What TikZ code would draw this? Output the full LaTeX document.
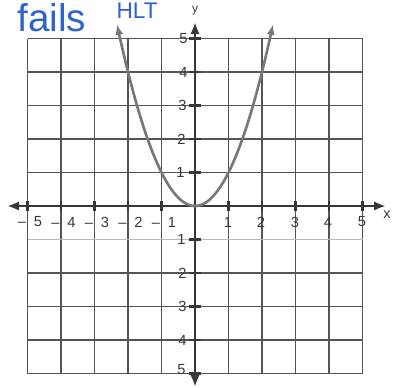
\documentclass[tikz,border=0pt]{standalone}
\usepackage{fontspec}
\setmainfont{Liberation Sans}
\usetikzlibrary{arrows.meta}

\definecolor{inkblue}{RGB}{48,98,205}
\definecolor{gridgray}{RGB}{85,85,85}
\definecolor{axisgray}{RGB}{55,55,55}
\definecolor{curvegray}{RGB}{120,120,120}

\tikzset{every picture/.style={line width=0.75pt}}
\tikzset{
  gridline/.style={draw=gridgray, line width=0.9pt},
  axisline/.style={draw=axisgray, line width=2.2pt, {Latex[length=9pt,width=7pt]}-{Latex[length=9pt,width=7pt]}},
  tickmark/.style={draw=axisgray, line width=1.6pt},
  numlabel/.style={inner sep=0.75pt, text=axisgray, font=\fontsize{11}{13}\selectfont},
}

\begin{document}
\begin{tikzpicture}[x=0.75pt,y=0.75pt,yscale=-1,xscale=1]
%set diagram size: 393 x 387
\useasboundingbox (0,0) rectangle (393,387);

%Grid [id:vertical lines]
\draw [gridline] (27.5,38.5) -- (27.5,373.5) ;
\draw [gridline] (61,38.5) -- (61,373.5) ;
\draw [gridline] (94.5,38.5) -- (94.5,373.5) ;
\draw [gridline] (128,38.5) -- (128,373.5) ;
\draw [gridline] (161.5,38.5) -- (161.5,373.5) ;
\draw [gridline] (228.5,38.5) -- (228.5,373.5) ;
\draw [gridline] (262,38.5) -- (262,373.5) ;
\draw [gridline] (295.5,38.5) -- (295.5,373.5) ;
\draw [gridline] (329,38.5) -- (329,373.5) ;
\draw [gridline] (362.5,38.5) -- (362.5,373.5) ;
%Grid [id:horizontal lines]
\draw [gridline] (27.5,38.5) -- (362.5,38.5) ;
\draw [gridline] (27.5,72) -- (362.5,72) ;
\draw [gridline] (27.5,105.5) -- (362.5,105.5) ;
\draw [gridline] (27.5,139) -- (362.5,139) ;
\draw [gridline] (27.5,172.5) -- (362.5,172.5) ;
\draw [gridline, draw=gray!55] (27.5,239.5) -- (362.5,239.5) ;
\draw [gridline] (27.5,273) -- (362.5,273) ;
\draw [gridline] (27.5,306.5) -- (362.5,306.5) ;
\draw [gridline] (27.5,340) -- (362.5,340) ;
\draw [gridline] (27.5,373.5) -- (362.5,373.5) ;

%Axes
\coordinate (xleft) at (7,206) ;
\coordinate (xright) at (386,206) ;
\coordinate (ytop) at (195,22) ;
\coordinate (ybottom) at (195,387) ;
\draw [axisline] (xleft) -- (xright) ;
\draw [axisline] (ybottom) -- (ytop) ;

%Ticks on x axis
\draw [tickmark] (27.5,201) -- (27.5,211) (61,201) -- (61,211) (94.5,201) -- (94.5,211) (128,201) -- (128,211) (161.5,201) -- (161.5,211) ;
\draw [tickmark] (228.5,201) -- (228.5,211) (262,201) -- (262,211) (295.5,201) -- (295.5,211) (329,201) -- (329,211) (362.5,201) -- (362.5,211) ;
%Ticks on y axis
\draw [tickmark] (189,38.5) -- (201,38.5) (189,72) -- (201,72) (189,105.5) -- (201,105.5) (189,139) -- (201,139) (189,172.5) -- (201,172.5) ;
\draw [tickmark] (189,239.5) -- (201,239.5) (189,273) -- (201,273) (189,306.5) -- (201,306.5) (189,340) -- (201,340) (189,373.5) -- (201,373.5) ;

%Curve [id:parabola]
\draw [draw=curvegray, line width=2pt, {Latex[length=8pt,width=6pt]}-{Latex[length=8pt,width=6pt]}] plot [smooth, domain=-2.33:2.33, samples=60] ({195+33.5*\x},{206-33.5*\x*\x}) ;

% Text Node
\draw (30,222) node (xm5) [numlabel] {–\kern6pt5};
% Text Node
\draw (63.5,222) node (xm4) [numlabel] {–\kern6pt4};
% Text Node
\draw (97,222) node (xm3) [numlabel] {–\kern6pt3};
% Text Node
\draw (130.5,222) node (xm2) [numlabel] {–\kern6pt2};
% Text Node
\draw (164,222) node (xm1) [numlabel] {–\kern6pt1};
% Text Node
\draw (228,222) node (xp1) [numlabel] {1};
% Text Node
\draw (261,222) node (xp2) [numlabel] {2};
% Text Node
\draw (295,222) node (xp3) [numlabel] {3};
% Text Node
\draw (328,222) node (xp4) [numlabel] {4};
% Text Node
\draw (362,222) node (xp5) [numlabel] {5};
% Text Node
\draw (387,215) node (xlab) [numlabel] {x};

% Text Node
\draw (189,38.5) node (yp5) [numlabel, anchor=east] {5};
% Text Node
\draw (189,72) node (yp4) [numlabel, anchor=east] {4};
% Text Node
\draw (188,105.5) node (yp3) [numlabel, anchor=east] {3};
% Text Node
\draw (187,139) node (yp2) [numlabel, anchor=east] {2};
% Text Node
\draw (186,172.5) node (yp1) [numlabel, anchor=east] {1};
% Text Node
\draw (187,239.5) node (ym1) [numlabel, anchor=east] {1};
% Text Node
\draw (188,273) node (ym2) [numlabel, anchor=east] {2};
% Text Node
\draw (188,306.5) node (ym3) [numlabel, anchor=east] {3};
% Text Node
\draw (188,340) node (ym4) [numlabel, anchor=east] {4};
% Text Node
\draw (187,370) node (ym5) [numlabel, anchor=east] {5};
% Text Node
\draw (195,11) node (ylab) [numlabel, font=\fontsize{9}{10}\selectfont] {y};

% Text Node
\draw (17,31) node (note1) [anchor=base west, inner sep=0pt, text=inkblue, font=\fontsize{29}{32}\selectfont] {fails};
% Text Node
\draw (116,18) node (note2) [anchor=base west, inner sep=0pt, text=inkblue, font=\fontsize{17}{19}\selectfont] {HLT};
\end{tikzpicture}
\end{document}
